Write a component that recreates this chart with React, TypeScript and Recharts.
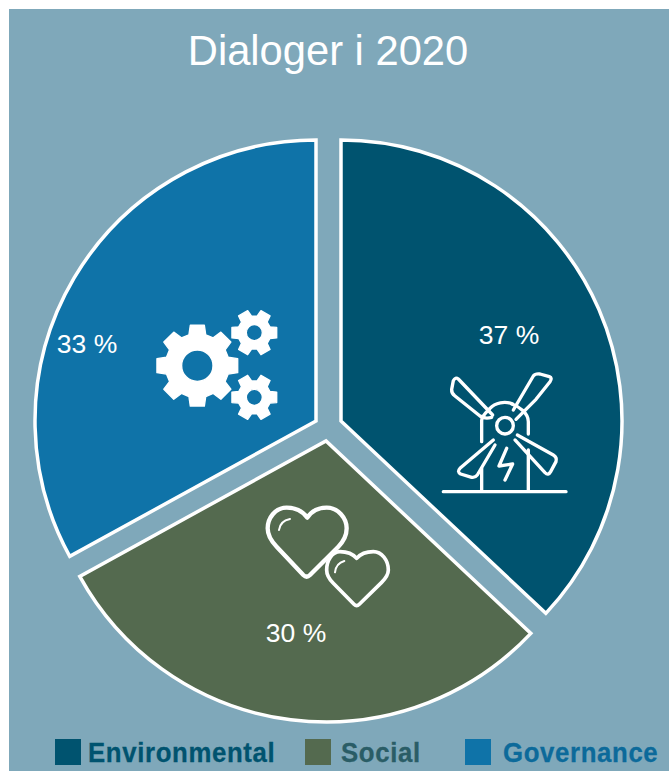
import React from "react";
import { PieChart, Pie, Sector, Legend } from "recharts";

const categories = ["Environmental", "Social", "Governance"];
const shares = [37, 30, 33];
const sliceColors = ["#00536f", "#546a4f", "#0f73a8"];
const legendTextColors = ["#00536f", "#2a5d66", "#0c6a9a"];
const titleText = "Dialoger i 2020";

const data = categories.map((name, i) => ({ name, value: shares[i], fill: sliceColors[i] }));

const W = 669, H = 771;
const CX = 328, CY = 425, R = 281;
const explode = [[13, -4], [-2, 16], [-12, -4]];
const labelOffset = [[181, -90], [-32, 208], [-241, -81]];
const swatchX = [55, 305, 465];
const legendTextX = [88, 341, 503];
const BG = "#7fa8ba";

function gearPath(cx: number, cy: number, teeth: number, rOut: number, rIn: number, hole: number, rot: number) {
  const pts: string[] = [];
  const step = (Math.PI * 2) / teeth;
  for (let i = 0; i < teeth; i++) {
    const a = rot + i * step;
    const seq: [number, number][] = [
      [rIn, a - step * 0.34],
      [rOut, a - step * 0.22],
      [rOut, a + step * 0.22],
      [rIn, a + step * 0.34],
    ];
    seq.forEach(([r, t]) => pts.push(`${(cx + r * Math.cos(t)).toFixed(1)},${(cy + r * Math.sin(t)).toFixed(1)}`));
  }
  return `M${pts.join("L")}Z M${cx + hole},${cy}A${hole},${hole} 0 1 0 ${cx - hole},${cy}A${hole},${hole} 0 1 0 ${cx + hole},${cy}Z`;
}

const Windmill = () => (
  <g transform="translate(430,360) scale(0.3333)" fill="none" stroke="#fff" strokeWidth={10} strokeLinecap="round" strokeLinejoin="round">
    <path d="M40,395H408" strokeWidth={10} />
    <path d="M155,390V325M295,390V270M155,245V182C155,170 165,160 178,148M245,132C270,140 295,160 295,185V222" />
    <path d="M180,145C195,128 225,122 248,132" />
    <circle cx={225} cy={197} r={25} />
    <path d="M188,165L85,57Q76,50 70,62L65,88Q64,100 75,108L150,168Q165,178 185,172" />
    <path d="M250,150L310,48Q316,40 330,42L358,50Q368,54 360,65L318,118L258,178" />
    <path d="M262,225L370,285Q382,292 378,305L362,335Q355,348 345,338L255,240" />
    <path d="M190,240L90,325Q80,335 92,342L125,352Q135,354 142,345L195,255" />
    <path d="M230,265L207,318L248,312L225,360" />
  </g>
);

const Gears = () => (
  <g transform="translate(140,300) scale(0.3333)" fill="#fff" fillRule="evenodd" stroke="#fff" strokeWidth={4} strokeLinejoin="round">
    <path d={gearPath(172, 197, 8, 123, 96, 47, -Math.PI / 2)} />
    <path d={gearPath(343, 98, 6, 69, 50, 24, 0)} />
    <path d={gearPath(343, 292, 6, 69, 50, 24, 0)} />
  </g>
);

const Hearts = () => (
  <g transform="translate(255,495) scale(0.3333)" fill="none" stroke="#fff" strokeLinecap="round" strokeLinejoin="round">
    <path strokeWidth={13} d="M157,68C140,45 115,38 95,38C60,38 38,70 38,100C38,125 50,140 65,155L145,240Q155,250 165,240L250,155C265,140 275,125 275,100C275,70 250,38 215,38C195,38 172,45 157,68Z" />
    <path strokeWidth={6} d="M72,105C74,88 85,76 105,72" />
    <path strokeWidth={11} fill={sliceColors[1]} d="M305,190C292,175 275,170 255,170C232,170 215,195 215,225C215,243 225,255 235,265L297,328Q305,336 313,328L380,262C392,250 400,240 400,225C400,195 380,170 355,170C335,170 318,175 305,190Z" />
    <path strokeWidth={6} d="M240,232C242,215 250,203 268,198" />
  </g>
);

const icons = [<Windmill />, <Hearts />, <Gears />];

const renderShape = (props: any) => {
  const i = categories.indexOf(props.name);
  const [dx, dy] = explode[i];
  return (
    <g>
      <Sector
        cx={props.cx + dx}
        cy={props.cy + dy}
        innerRadius={0}
        outerRadius={props.outerRadius}
        startAngle={props.startAngle}
        endAngle={props.endAngle}
        fill={props.fill}
        stroke="#fff"
        strokeWidth={3.5}
      />
      {icons[i]}
    </g>
  );
};

const renderLabel = (props: any) => {
  const i = categories.indexOf(props.name);
  const [dx, dy] = labelOffset[i];
  return (
    <text
      x={props.cx + dx}
      y={props.cy + dy}
      fill="#fff"
      textAnchor="middle"
      dominantBaseline="central"
      fontFamily="'Liberation Sans', Arial, sans-serif"
      fontSize={26.5}
    >
      {`${props.value} %`}
    </text>
  );
};

const renderLegend = () => (
  <div style={{ position: "relative", width: W, height: 41 }}>
    {categories.map((c, i) => (
      <React.Fragment key={c}>
        <div style={{ position: "absolute", left: swatchX[i], top: 9, width: 26, height: 26, background: sliceColors[i] }} />
        <div
          style={{
            position: "absolute",
            left: legendTextX[i],
            top: 7,
            lineHeight: "32px",
            fontFamily: "'Liberation Sans', sans-serif",
            fontWeight: 700,
            fontSize: 28,
            letterSpacing: "0.7px",
            whiteSpace: "nowrap",
            color: legendTextColors[i],
            transform: "scaleX(0.92)",
            transformOrigin: "left center",
            WebkitTextStroke: "0.3px currentColor",
          }}
        >
          {c}
        </div>
      </React.Fragment>
    ))}
  </div>
);

export default function App() {
  return (
    <div style={{ position: "absolute", left: 0, top: 0, width: W, height: H, background: "#fff", overflow: "hidden" }}>
      <div style={{ position: "absolute", left: 9, top: 9, width: W - 9, height: H - 9, background: BG }} />
      <div style={{ position: "absolute", left: 0, top: 0 }}>
        <PieChart width={W} height={H} margin={{ top: 0, right: 0, bottom: 0, left: 0 }}>
          <Pie
            data={data}
            dataKey="value"
            nameKey="name"
            cx={CX}
            cy={CY}
            outerRadius={R}
            innerRadius={0}
            startAngle={90}
            endAngle={-270}
            paddingAngle={0}
            isAnimationActive={false}
            shape={renderShape}
            label={renderLabel}
            labelLine={false}
          />
          <text
            x={328}
            y={50}
            fill="#fff"
            textAnchor="middle"
            dominantBaseline="central"
            fontFamily="'Liberation Sans', Arial, sans-serif"
            fontSize={41.7}
          >
            {titleText}
          </text>
          <Legend content={renderLegend} wrapperStyle={{ left: 0, top: 730, width: W, height: 41 }} />
        </PieChart>
      </div>
    </div>
  );
}
